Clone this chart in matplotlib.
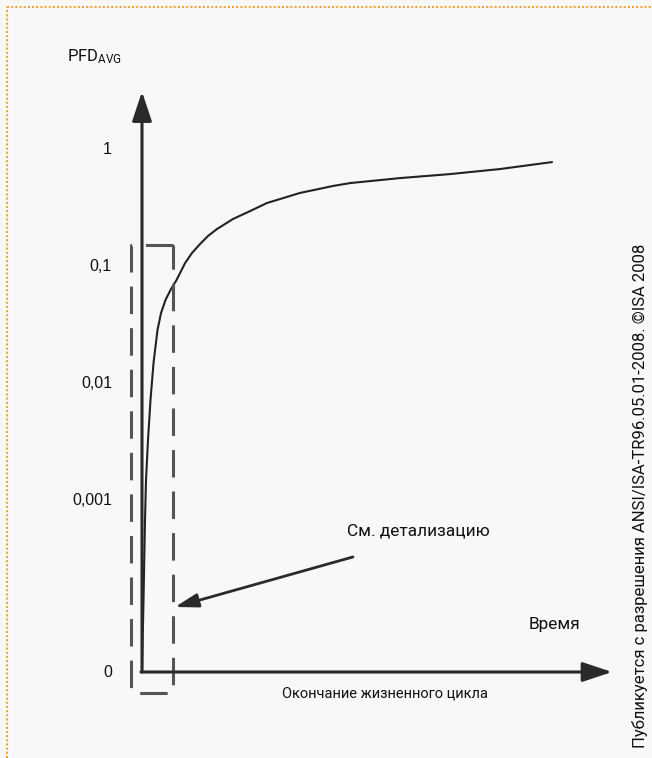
import matplotlib
matplotlib.use('Agg')
import matplotlib.pyplot as plt
import numpy as np

plt.rcParams['mathtext.default'] = 'regular'

# data
tick_labels = ['1', '0,1', '0,01', '0,001', '0']
tick_pfd = [1, 0.1, 0.01, 0.001, 0]

curve_time = [0, 0.015, 0.03, 0.04, 0.06, 0.085, 0.115, 0.155, 0.19, 0.235,
              0.285, 0.345, 0.43, 0.50, 0.58, 0.66, 0.75, 0.91, 1.08, 1.25,
              1.58, 1.91, 2.08, 2.58, 3.08, 3.58, 4.10]
curve_pfd = [0, 1.39e-4, 6.75e-4, 1.48e-3, 3.27e-3, 7.2e-3, 0.0149, 0.0286,
             0.040, 0.0518, 0.063, 0.0767, 0.107, 0.131, 0.156, 0.183, 0.210,
             0.256, 0.299, 0.351, 0.428, 0.491, 0.520, 0.574, 0.621, 0.686,
             0.787]

detail_box_t = [0.31, -0.11, -0.11, 0.31, 0.31]
detail_box_pfd = [0.153, 0.153, -1, -1, 0.153]   # -1 = below the zero line

ZERO = -0.474


def level(p):
    p = np.asarray(p, dtype=float)
    out = np.full(p.shape, ZERO)
    out[p > 0] = np.log10(p[p > 0]) + 4
    out[p < 0] = -0.654
    return out


bg = '#f7f8f7'
narrow = ['Roboto', 'DejaVu Sans']
plain = ['Liberation Sans', 'DejaVu Sans']
ink = '#111111'

fig = plt.figure(figsize=(6.52, 7.58), dpi=100, facecolor=bg)
ax = fig.add_axes([0, 0, 1, 1], facecolor=bg)
ax.set_xlim(-1.42, 5.10)
ax.set_ylim(-1.211, 5.285)
ax.axis('off')

# axes with arrows
ax.annotate('', xy=(0, 4.50), xytext=(0, ZERO),
            arrowprops=dict(arrowstyle='-|>,head_length=1.2,head_width=0.4',
                            mutation_scale=15, lw=2.2, color='#2a2a2a',
                            shrinkA=0, shrinkB=0))
ax.annotate('', xy=(4.70, ZERO), xytext=(-0.01, ZERO),
            arrowprops=dict(arrowstyle='-|>,head_length=1.2,head_width=0.4',
                            mutation_scale=15, lw=2.2, color='#2a2a2a',
                            shrinkA=0, shrinkB=0))

# curve
ax.plot(curve_time, level(curve_pfd), color='#222222', lw=1.5,
        solid_joinstyle='round', solid_capstyle='round')

# dashed detail box
ax.plot(detail_box_t, level(detail_box_pfd), color='#555555', lw=2.2,
        linestyle=(0, (9, 4.6)), dash_joinstyle='round', clip_on=False)

# pointer to detail
ax.annotate('', xy=(0.33, 0.083), xytext=(2.11, 0.512),
            arrowprops=dict(arrowstyle='-|>,head_length=1.0,head_width=0.3',
                            mutation_scale=14, lw=2.0, color='#2a2a2a',
                            shrinkA=0, shrinkB=0))

# tick labels
for lab, p in zip(tick_labels, tick_pfd):
    ax.text(-0.30, level([p])[0], lab, ha='right', va='center',
            fontsize=11.5, family=plain, color=ink)

ax.text(-0.75, 4.796, 'PFD$_{AVG}$', ha='left', va='center',
        fontsize=12, family=narrow, color=ink)
ax.text(2.05, 0.734, 'См. детализацию', ha='left', va='center',
        fontsize=12.4, family=narrow, color=ink)
ax.text(4.13, -0.071, 'Время', ha='center', va='center',
        fontsize=12.4, family=narrow, color=ink)
ax.text(2.43, -0.662, 'Окончание жизненного цикла', ha='center', va='center',
        fontsize=10.5, family=narrow, color=ink)
ax.text(4.98, -1.125,
        'Публикуется с разрешения ANSI/ISA-TR96.05.01-2008. ©ISA 2008',
        rotation=90, ha='center', va='bottom',
        fontsize=12, family=narrow, color=ink)

# dotted orange frame, top and left only
fig.add_artist(plt.Line2D([7 / 652, 1], [1 - 7 / 758, 1 - 7 / 758],
                          transform=fig.transFigure, color='#f0a53a',
                          lw=1.5, linestyle=(0, (1, 1))))
fig.add_artist(plt.Line2D([7 / 652, 7 / 652], [0, 1 - 7 / 758],
                          transform=fig.transFigure, color='#f0a53a',
                          lw=1.5, linestyle=(0, (1, 1))))

fig.savefig('out.png', dpi=100, facecolor=bg)
